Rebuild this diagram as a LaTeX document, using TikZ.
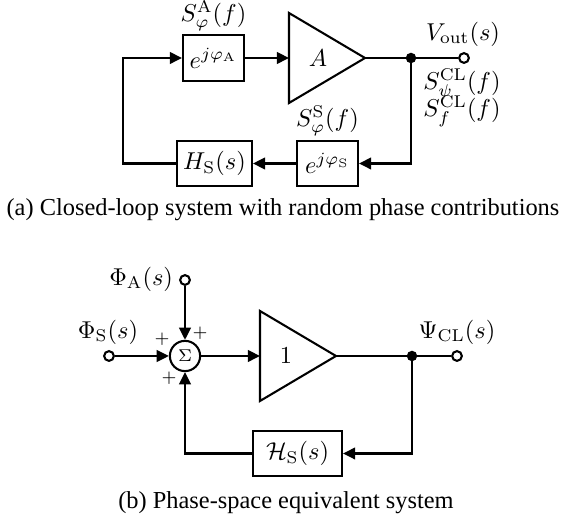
\documentclass[tikz,border=0pt]{standalone}
\usepackage[no-math]{fontspec}
\setmainfont{Liberation Serif}
\usetikzlibrary{arrows.meta}
\begin{document}
\begin{tikzpicture}[x=0.41pt,y=-0.41pt,
  line width=0.85pt,
  >={Triangle[length=5pt,width=4.8pt]},
  blk/.style={draw,minimum height=18.5pt,inner sep=1pt},
  opn/.style={circle,draw,fill=white,inner sep=0pt,minimum size=4pt},
  dot/.style={circle,fill=black,inner sep=0pt,minimum size=4.3pt},
  lbl/.style={inner sep=0pt},
  pls/.style={inner sep=0pt,font=\scriptsize}]
\useasboundingbox (0,0) rectangle (565,521);
% ---------- (a)
\node[blk,minimum width=25pt] (eA) at (213.5,58) {$e^{j\varphi_{\mathrm{A}}}$};
\node[lbl] (SA) at (213.5,16) {$S_{\varphi}^{\mathrm{A}}(f)$};
\draw (289,13) -- (365,58) -- (289,103) -- cycle;
\coordinate (Ain) at (289,58);
\coordinate (Aout) at (365,58);
\node[lbl] at (318,58) (Alab) {$A$};
\node[dot] (j1) at (411,58) {};
\node[opn] (vo) at (464,58) {};
\node[lbl] (VL) at (463,34) {$V_{\mathrm{out}}(s)$};
\node[lbl] (SC1) at (462,84) {$S_{\psi}^{\mathrm{CL}}(f)$};
\node[lbl] (SC2) at (462,111) {$S_{f}^{\mathrm{CL}}(f)$};
\node[blk,minimum width=25pt] (eS) at (327.5,163.5) {$e^{j\varphi_{\mathrm{S}}}$};
\node[lbl] (SS) at (327.5,121) {$S_{\varphi}^{\mathrm{S}}(f)$};
\node[blk,minimum width=30.7pt] (HS) at (214.5,163.5) {$H_{\mathrm{S}}(s)$};
\coordinate (c1) at (123,163.5);
\coordinate (c2) at (123,58);
\coordinate (c3) at (411,163.5);
\draw[->] (HS.west) -- (c1) -- (c2) -- (eA.west);
\draw[->] (eA.east) -- (Ain);
\draw (Aout) -- (j1.center) -- (vo.west);
\draw[->] (j1.center) -- (c3) -- (eS.east);
\draw[->] (eS.west) -- (HS.east);
\node[lbl] (capA) at (283,210) {(a) Closed-loop system with random phase contributions};
% ---------- (b)
\node[circle,draw,inner sep=0pt,minimum size=12.4pt] (sum) at (185,356) {$\scriptstyle\Sigma$};
\node[opn] (pa) at (185,280) {};
\node[lbl,anchor=east] (PAL) at (174,279) {$\Phi_{\mathrm{A}}(s)$};
\node[opn] (ps) at (109,356) {};
\node[lbl] (PSL) at (108,332) {$\Phi_{\mathrm{S}}(s)$};
\node[pls] (p1) at (200,333) {$+$};
\node[pls] (p2) at (162,339) {$+$};
\node[pls] (p3) at (169,378) {$+$};
\draw (260,311) -- (336,356) -- (260,401) -- cycle;
\coordinate (Bin) at (260,356);
\coordinate (Bout) at (336,356);
\node[lbl] (Blab) at (286,356) {$1$};
\node[dot] (j2) at (412,356) {};
\node[opn] (po) at (457,356) {};
\node[lbl] (PO) at (457,332) {$\Psi_{\mathrm{CL}}(s)$};
\node[blk,minimum width=36.5pt] (HB) at (297.5,453.5) {$\mathcal{H}_{\mathrm{S}}(s)$};
\coordinate (d1) at (412,453.5);
\coordinate (d2) at (185,453.5);
\draw[->] (pa.south) -- (sum.north);
\draw[->] (ps.east) -- (sum.west);
\draw[->] (sum.east) -- (Bin);
\draw (Bout) -- (j2.center) -- (po.west);
\draw[->] (j2.center) -- (d1) -- (HB.east);
\draw[->] (HB.west) -- (d2) -- (sum.south);
\node[lbl] (capB) at (286,503) {(b) Phase-space equivalent system};
\end{tikzpicture}
\end{document}
